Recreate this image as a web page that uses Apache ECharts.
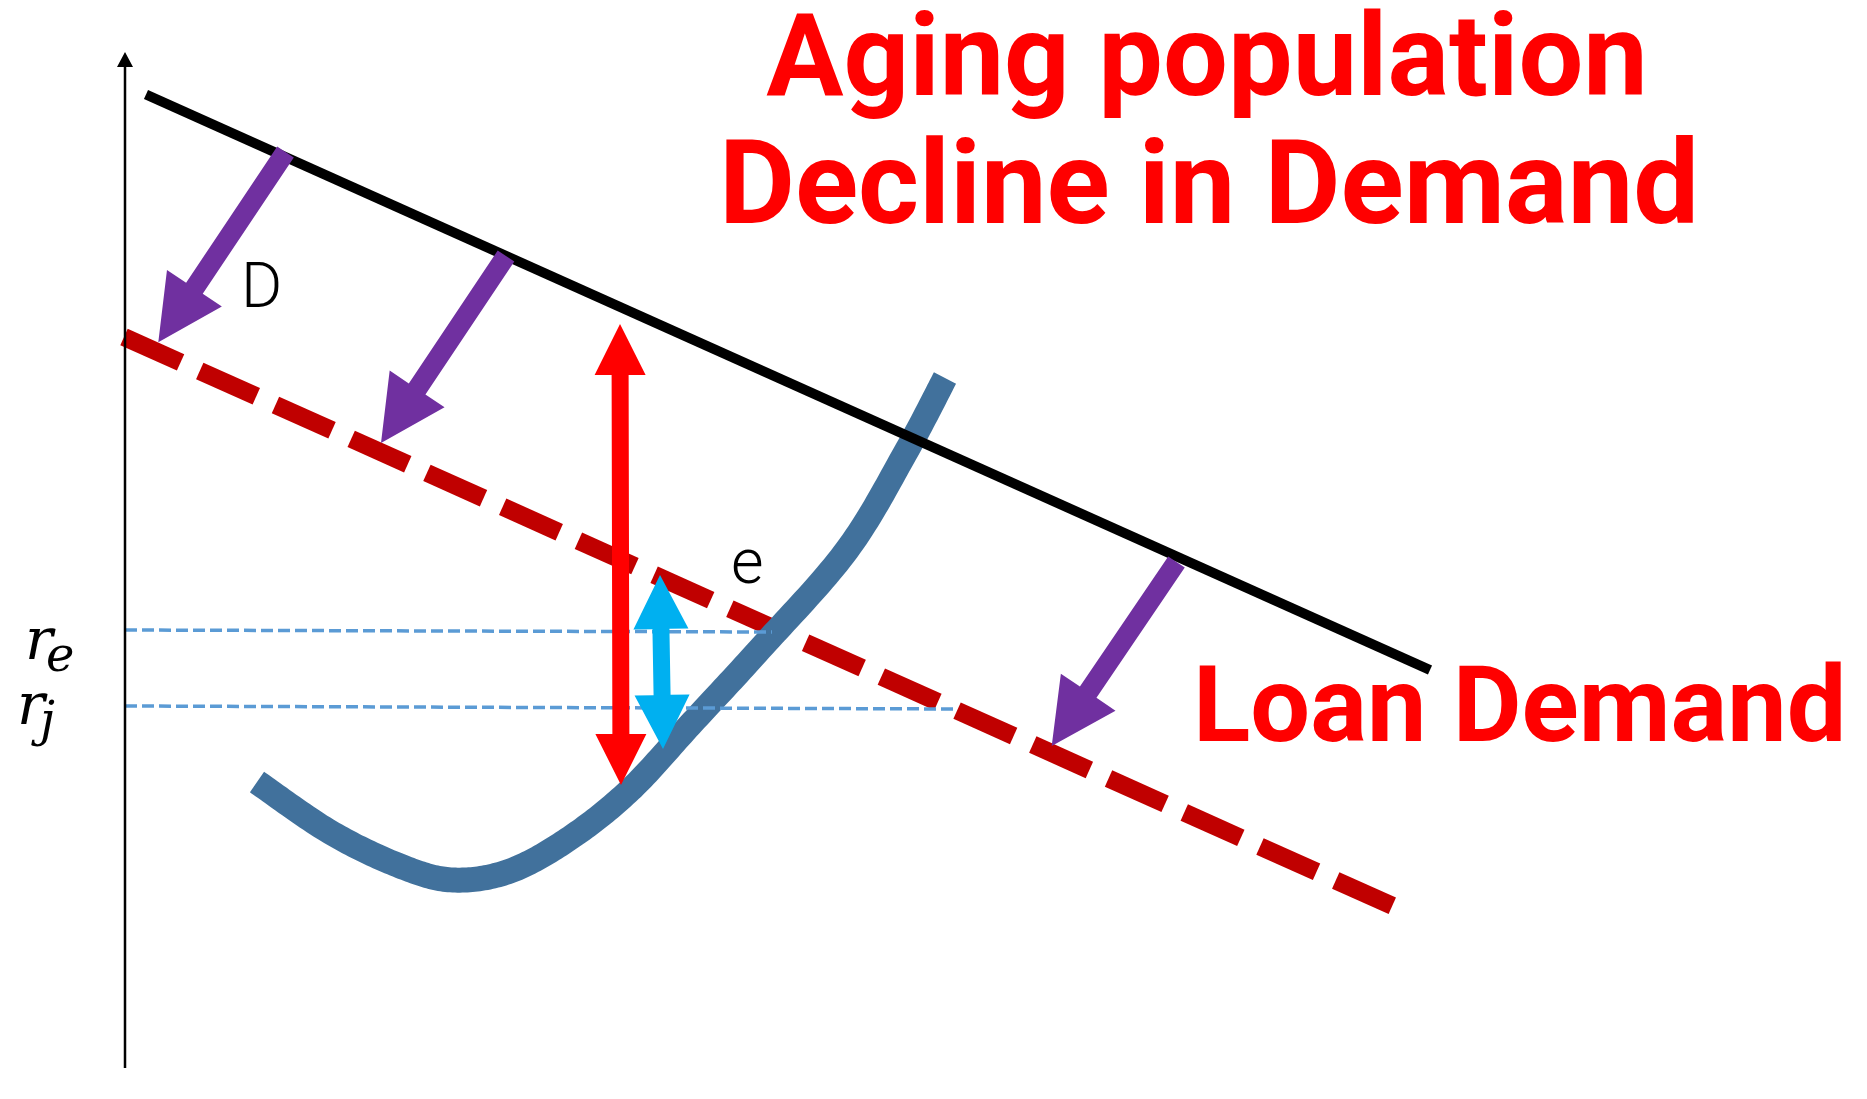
<!DOCTYPE html>
<html><head><meta charset="utf-8">
<script src="https://cdn.jsdelivr.net/npm/echarts@6/dist/echarts.min.js"></script>
<style>html,body{margin:0;padding:0;background:#fff}#c{width:1867px;height:1099px}</style>
</head><body><div id="c"></div>
<script>
// ---- diagram data (in diagram units) ----
const axisArrow = [[125, 1068, 125, 52]];
const demandBefore = [[146, 94.5], [1430, 670]];
const demandAfter = [[124, 337], [1395, 907]];
const supplyCurve = [[257,782],[330,832],[400,866],[453,880],[510,871],[570,838],[630,790],[690,725],[760,649],[847,550],[907,450],[945,378]];
const rateE = [[125, 630], [772, 632]];
const rateJ = [[125, 706], [958, 709]];
const shiftArrows = [[285.5,152,158.3,342.3],[506,256,381,443],[1176.5,562,1051.7,746]];
const demandGapArrow = [[620, 324, 621, 785]];
const rateGapArrow = [[660, 575, 663, 749]];
const titleLines = ['Aging population', 'Decline in Demand'];
const curveLabel = 'Loan Demand';
const pointLabels = ['D', 'e'];
const rateLabels = [['r', 'e'], ['r', 'j']];

function arrowRender(shaftW, headL, headW, color, both) {
  return function (params, api) {
    const a = api.coord([api.value(0), api.value(1)]);
    const b = api.coord([api.value(2), api.value(3)]);
    const dx = b[0] - a[0], dy = b[1] - a[1];
    const len = Math.hypot(dx, dy);
    const ux = dx / len, uy = dy / len;
    const nx = -uy, ny = ux;
    const P = (p, off) => [p[0] + nx * off, p[1] + ny * off];
    const bb = [b[0] - ux * headL, b[1] - uy * headL];
    const aa = both ? [a[0] + ux * headL, a[1] + uy * headL] : a;
    const pts = [P(aa, shaftW / 2), P(bb, shaftW / 2), P(bb, headW / 2), [b[0], b[1]],
                 P(bb, -headW / 2), P(bb, -shaftW / 2), P(aa, -shaftW / 2)];
    if (both) { pts.push(P(aa, -headW / 2), [a[0], a[1]], P(aa, headW / 2)); }
    return { type: 'polygon', shape: { points: pts }, style: { fill: color } };
  };
}

// straight band (solid or dashed) between the series' two points, drawn as filled polygons
function bandRender(width, color, dash) {
  return function (params, api) {
    if (params.dataIndexInside !== 0) return null;
    const a = api.coord([api.value(0, 0), api.value(1, 0)]);
    const b = api.coord([api.value(0, 1), api.value(1, 1)]);
    const dx = b[0] - a[0], dy = b[1] - a[1];
    const L = Math.hypot(dx, dy);
    const ux = dx / L, uy = dy / L, nx = -uy * width / 2, ny = ux * width / 2;
    const rect = (s0, s1) => {
      const p = [a[0] + ux * s0, a[1] + uy * s0], q = [a[0] + ux * s1, a[1] + uy * s1];
      return { type: 'polygon', shape: { points: [[p[0] + nx, p[1] + ny], [q[0] + nx, q[1] + ny], [q[0] - nx, q[1] - ny], [p[0] - nx, p[1] - ny]] }, style: { fill: color } };
    };
    const children = [];
    if (!dash) children.push(rect(0, L));
    else for (let s = 0; s < L; s += dash[0] + dash[1]) children.push(rect(s, Math.min(s + dash[0], L)));
    return { type: 'group', children: children };
  };
}

// smooth thick curve through all points of the series, filled as a polygon
function curveRender(width, color) {
  return function (params, api) {
    if (params.dataIndexInside !== 0) return null;
    const n = params.dataInsideLength;
    const pts = [];
    for (let i = 0; i < n; i++) pts.push(api.coord([api.value(0, i), api.value(1, i)]));
    const left = [], right = [];
    const h = width / 2;
    for (let i = 0; i < n - 1; i++) {
      const p0 = pts[Math.max(i - 1, 0)], p1 = pts[i], p2 = pts[i + 1], p3 = pts[Math.min(i + 2, n - 1)];
      const c1 = [p1[0] + (p2[0] - p0[0]) / 6, p1[1] + (p2[1] - p0[1]) / 6];
      const c2 = [p2[0] - (p3[0] - p1[0]) / 6, p2[1] - (p3[1] - p1[1]) / 6];
      const steps = 24;
      for (let k = (i === 0 ? 0 : 1); k <= steps; k++) {
        const t = k / steps, m = 1 - t;
        const x = m*m*m*p1[0] + 3*m*m*t*c1[0] + 3*m*t*t*c2[0] + t*t*t*p2[0];
        const y = m*m*m*p1[1] + 3*m*m*t*c1[1] + 3*m*t*t*c2[1] + t*t*t*p2[1];
        let tx = 3*m*m*(c1[0]-p1[0]) + 6*m*t*(c2[0]-c1[0]) + 3*t*t*(p2[0]-c2[0]);
        let ty = 3*m*m*(c1[1]-p1[1]) + 6*m*t*(c2[1]-c1[1]) + 3*t*t*(p2[1]-c2[1]);
        const tl = Math.hypot(tx, ty) || 1; tx /= tl; ty /= tl;
        left.push([x - ty * h, y + tx * h]);
        right.push([x + ty * h, y - tx * h]);
      }
    }
    return { type: 'polygon', shape: { points: left.concat(right.reverse()) }, style: { fill: color } };
  };
}

const chart = echarts.init(document.getElementById('c'), null, { renderer: 'canvas' });
const red = '#FF0000';
const serif = '"DejaVu Serif"';
chart.setOption({
  animation: false,
  backgroundColor: '#ffffff',
  grid: { left: 0, right: 0, top: 0, bottom: 0 },
  xAxis: { type: 'value', min: 0, max: 1867, show: false },
  yAxis: { type: 'value', min: 0, max: 1099, inverse: true, show: false },
  series: [
    { type: 'custom', data: demandAfter, z: 2, clip: false, renderItem: bandRender(18, '#C00000', [62, 21]) },
    { type: 'custom', data: supplyCurve, z: 3, clip: false, renderItem: curveRender(25, '#41719C') },
    { type: 'custom', data: demandBefore, z: 4, clip: false, renderItem: bandRender(10, '#000000', null) },
    { type: 'custom', data: rateE, z: 5, clip: false, renderItem: bandRender(3.5, '#5B9BD5', [12, 5]) },
    { type: 'custom', data: rateJ, z: 5, clip: false, renderItem: bandRender(3.5, '#5B9BD5', [12, 5]) },
    { type: 'custom', data: axisArrow, z: 6, renderItem: arrowRender(2.5, 15, 16, '#000000', false) },
    { type: 'custom', data: shiftArrows, z: 6, renderItem: arrowRender(20, 65, 66, '#7030A0', false) },
    { type: 'custom', data: demandGapArrow, z: 7, renderItem: arrowRender(17, 51, 51, red, true) },
    { type: 'custom', data: rateGapArrow, z: 7, renderItem: arrowRender(17, 54, 55, '#00B0F0', true) }
  ],
  graphic: [
    { type: 'text', z: 10, style: { text: titleLines[0], x: 1207, y: 66, align: 'center', verticalAlign: 'middle', font: 'bold 115px Roboto', fill: red } },
    { type: 'text', z: 10, style: { text: titleLines[1], x: 1209, y: 194, align: 'center', verticalAlign: 'middle', font: 'bold 117px Roboto', fill: red } },
    { type: 'text', z: 10, style: { text: curveLabel, x: 1193, y: 714, align: 'left', verticalAlign: 'middle', font: 'bold 106px Roboto', fill: red } },
    { type: 'text', z: 10, style: { text: pointLabels[0], x: 241, y: 291, align: 'left', verticalAlign: 'middle', font: '300 63px Roboto', fill: '#000' } },
    { type: 'text', z: 10, style: { text: pointLabels[1], x: 731, y: 567, align: 'left', verticalAlign: 'middle', font: '300 63px Roboto', fill: '#000' } },
    { type: 'text', z: 10, style: { text: rateLabels[0][0], x: 25, y: 644, align: 'left', verticalAlign: 'middle', font: 'italic 58px ' + serif, fill: '#000' } },
    { type: 'text', z: 10, style: { text: rateLabels[0][1], x: 46, y: 659, align: 'left', verticalAlign: 'middle', font: 'italic 48px ' + serif, fill: '#000' } },
    { type: 'text', z: 10, style: { text: rateLabels[1][0], x: 17, y: 709, align: 'left', verticalAlign: 'middle', font: 'italic 58px ' + serif, fill: '#000' } },
    { type: 'text', z: 10, style: { text: rateLabels[1][1], x: 40, y: 724, align: 'left', verticalAlign: 'middle', font: 'italic 48px ' + serif, fill: '#000' } }
  ]
});
</script></body></html>
